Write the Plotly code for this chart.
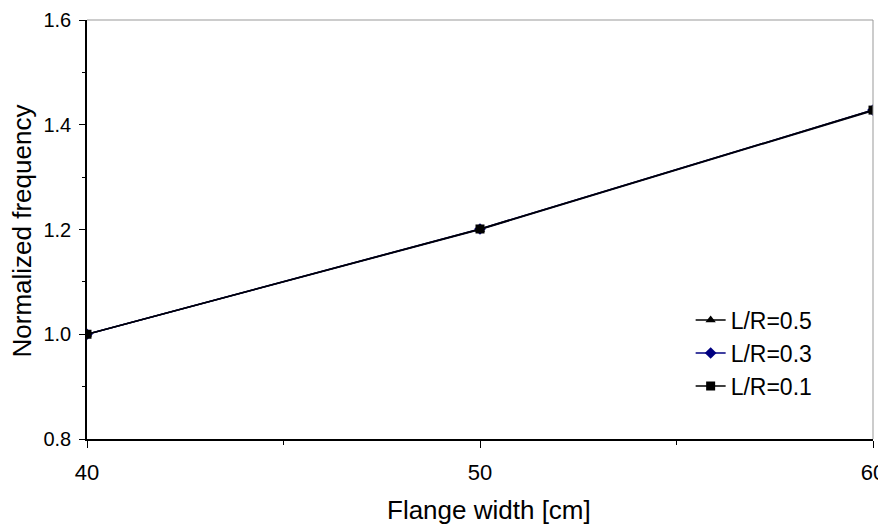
import plotly.graph_objects as go

x_width = [40, 50, 60]
lr05 = [1.000, 1.200, 1.427]
lr03 = [1.000, 1.201, 1.428]
lr01 = [1.000, 1.201, 1.428]
series_names = ["L/R=0.5", "L/R=0.3", "L/R=0.1"]
x_title = "Flange width [cm]"
y_title = "Normalized frequency"

fig = go.Figure()
specs = [
    (lr05, "black", "triangle-up", 9),
    (lr03, "#000080", "diamond", 9),
    (lr01, "black", "square", 9),
]
for name, (vals, col, sym, sz) in zip(series_names, specs):
    fig.add_trace(go.Scatter(
        x=x_width, y=vals, name=name, mode="lines+markers",
        line=dict(color=col, width=1.5),
        marker=dict(symbol=sym, size=sz, color=col),
        legendgroup=name,
    ))

# page has an 8px body margin, so the figure is sized/margined to compensate
fig.update_layout(
    width=878, height=518,
    margin=dict(l=79, r=13, t=12, b=87),
    paper_bgcolor="white", plot_bgcolor="white",
    font=dict(family="Liberation Sans, Arial, sans-serif", color="black", size=20),
    showlegend=True,
    legend=dict(x=0.768, y=0.335, xanchor="left", yanchor="top",
                font=dict(size=23), bgcolor="rgba(0,0,0,0)",
                tracegroupgap=0, itemwidth=30),
    xaxis=dict(range=[40, 60], tickvals=[40, 50, 60], ticks="outside", ticklen=7,
               tickcolor="black", linecolor="black", linewidth=1.5, showline=True,
               showgrid=False, zeroline=False, ticklabelstandoff=6, automargin=False,
               tickfont=dict(size=22),
               minor=dict(tickvals=[45, 55], ticks="outside", ticklen=4, tickcolor="black", showgrid=False)),
    yaxis=dict(range=[0.8, 1.6], tickvals=[0.8, 1.0, 1.2, 1.4, 1.6], tickformat=".1f",
               ticks="outside", ticklen=6, tickcolor="black", linecolor="black", linewidth=1.5,
               showline=True, showgrid=False, zeroline=False, ticklabelstandoff=4, automargin=False,
               tickfont=dict(size=20),
               minor=dict(tickvals=[0.9, 1.1, 1.3, 1.5], ticks="outside", ticklen=3, tickcolor="black", showgrid=False)),
    annotations=[
        dict(text=x_title, xref="paper", yref="paper", x=0.5, y=0, xanchor="center", yanchor="middle",
             xshift=9, yshift=-71, showarrow=False, font=dict(size=26)),
        dict(text=y_title, xref="paper", yref="paper", x=0, y=0.5, xanchor="center", yanchor="middle",
             xshift=-66, yshift=-2, textangle=-90, showarrow=False, font=dict(size=26)),
    ],
    shapes=[
        dict(type="line", xref="paper", yref="paper", x0=0, x1=1, y0=1, y1=1, line=dict(color="#999999", width=1)),
        dict(type="line", xref="paper", yref="paper", x0=1, x1=1, y0=0, y1=1, line=dict(color="#999999", width=1)),
    ],
)
fig.write_html("out.html")
